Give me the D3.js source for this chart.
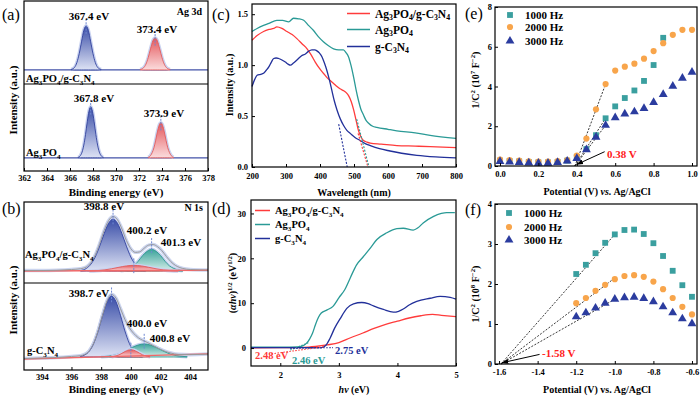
<!DOCTYPE html>
<html>
<head>
<meta charset="utf-8">
<script src="https://cdn.jsdelivr.net/npm/d3@7"></script>
<style>
  body { margin: 0; background: #fff; }
</style>
</head>
<body>
<script>
"use strict";
const SERIF = '"Liberation Serif", "Times New Roman", serif';
const RED = '#ff3b3b', TEAL = '#2a9a96', NAVY = '#22309a';

// (a) Ag 3d XPS components [binding energy, intensity a.u.]
const agCompBlue = [[366.1,1],[366.4,6],[366.6,17],[366.8,37],[367.0,64],[367.2,90],[367.4,100],[367.6,90],[367.8,64],[368.0,37],[368.2,17],[368.4,6],[368.7,1]];
const agCompRed = [[372.1,1],[372.4,5],[372.6,13],[372.8,28],[373.0,48],[373.2,66],[373.4,73],[373.6,66],[373.8,48],[374.0,28],[374.2,13],[374.4,5],[374.7,1]];
const agPureBlue = [[366.7,1],[366.9,5],[367.05,13],[367.2,29],[367.35,53],[367.5,82],[367.65,106],[367.8,116],[367.95,106],[368.1,82],[368.25,53],[368.4,29],[368.55,13],[368.7,5],[368.9,1]];
const agPureRed = [[372.8,1],[373.0,5],[373.15,12],[373.3,23],[373.45,40],[373.6,59],[373.75,74],[373.9,80],[374.05,74],[374.2,59],[374.35,40],[374.5,23],[374.65,12],[374.8,5],[375.0,1]];

// (b) N 1s XPS components
const nCompBlue = [[396.6,1],[397.0,5],[397.3,13],[397.6,27],[397.9,48],[398.2,72],[398.5,92],[398.8,100],[399.1,92],[399.4,72],[399.7,48],[400.0,27],[400.3,13],[400.6,5],[401.0,1]];
const nCompTeal = [[399.3,0.4],[399.6,2],[399.9,5],[400.2,10],[400.5,19],[400.8,30],[401.1,38],[401.4,42],[401.7,38],[402.0,30],[402.3,19],[402.6,10],[402.9,5],[403.2,2],[403.5,0.4]];
const nCompRed = [[397.2,0.3],[397.7,0.8],[398.2,2.1],[398.7,4.4],[399.2,7.3],[399.7,9.9],[400.2,11],[400.7,9.9],[401.2,7.3],[401.7,4.4],[402.2,2.1],[402.7,0.8],[403.2,0.3]];
const nCompEnv = [[392.8,1],[394,1],[395,1.5],[396,3],[396.6,4.5],[397.0,8],[397.3,16],[397.6,31],[397.9,53],[398.2,78],[398.5,97],[398.8,105],[399.1,99],[399.4,81],[399.7,59],[400.0,43],[400.3,36],[400.6,37],[400.9,44],[401.2,50],[401.5,51],[401.8,47],[402.1,39],[402.4,28],[402.7,18],[403.0,11],[403.5,5],[404,3],[405.2,2]];
const nCompBg = [[392.8,0],[405.2,1.5]];
const nPureBlue = [[396.6,1],[396.9,4],[397.2,11],[397.5,26],[397.8,50],[398.1,80],[398.4,106],[398.7,117],[399.0,106],[399.3,80],[399.6,50],[399.9,26],[400.2,11],[400.5,4],[400.8,1]];
const nPureRed = [[398.7,0.4],[399.0,2],[399.2,4],[399.4,7],[399.6,10.3],[399.8,13],[400.0,14],[400.2,13],[400.4,10.3],[400.6,7],[400.8,4],[401.0,2],[401.3,0.4]];
const nPureTeal = [[398.0,0.4],[398.5,1.6],[398.9,3.6],[399.3,7.3],[399.7,12.5],[400.1,18.4],[400.5,23],[400.9,25],[401.3,23],[401.7,18.4],[402.1,12.5],[402.5,7.3],[402.9,3.6],[403.3,1.6],[403.8,0.4]];
const nPureEnv = [[392.8,-3],[394,-2],[395,-1],[396,1],[396.6,2.5],[396.9,5],[397.2,12],[397.5,27],[397.8,51],[398.1,81],[398.4,108],[398.7,120],[399.0,113],[399.3,93],[399.6,72],[399.9,56],[400.2,45],[400.5,37],[400.8,32],[401.1,28],[401.5,22],[401.9,16],[402.3,11],[402.7,7.5],[403.2,5],[404,4.5],[405.2,5.5]];
const nPureBg = [[392.8,-4],[405.2,6]];

// (c) UV-vis absorbance [nm, a.u.]
const absComp = [[200,1.245],[215,1.29],[234,1.33],[250,1.35],[264,1.36],[273,1.375],[288,1.36],[303,1.33],[318,1.30],[332,1.26],[347,1.21],[362,1.16],[374,1.10],[386,1.03],[398,0.97],[410,0.92],[420,0.88],[430,0.85],[440,0.82],[450,0.79],[460,0.765],[469,0.75],[477,0.73],[484,0.70],[492,0.64],[499,0.56],[506,0.46],[513,0.36],[520,0.30],[528,0.26],[538,0.245],[548,0.235],[580,0.225],[626,0.21],[680,0.205],[724,0.20],[800,0.19]];
const absAgP = [[200,1.33],[215,1.36],[234,1.39],[250,1.41],[273,1.44],[290,1.44],[308,1.425],[322,1.46],[337,1.455],[352,1.44],[366,1.39],[381,1.34],[395,1.28],[410,1.23],[425,1.19],[440,1.16],[455,1.15],[469,1.15],[477,1.12],[484,1.08],[491,1.0],[499,0.88],[506,0.76],[513,0.655],[520,0.57],[528,0.51],[535,0.46],[543,0.43],[555,0.40],[567,0.39],[600,0.37],[626,0.355],[680,0.335],[724,0.31],[800,0.28]];
const absCN = [[200,0.79],[208,0.86],[215,0.90],[225,0.91],[234,0.92],[242,0.95],[249,0.98],[257,1.03],[264,1.065],[271,1.07],[278,1.065],[288,1.05],[298,1.03],[306,1.01],[313,1.00],[322,1.02],[332,1.05],[345,1.09],[357,1.11],[366,1.135],[376,1.15],[385,1.15],[391,1.14],[398,1.12],[406,1.08],[413,1.02],[420,0.95],[428,0.85],[435,0.75],[442,0.65],[450,0.56],[460,0.47],[469,0.41],[479,0.36],[489,0.33],[503,0.29],[518,0.26],[533,0.23],[548,0.21],[575,0.18],[606,0.157],[640,0.135],[685,0.115],[740,0.10],[800,0.09]];
const tanCComp = [[512,0.33],[541,0]];
const tanCAgP = [[508,0.47],[544,0]];
const tanCCN = [[455,0.42],[480,0]];

// (d) Tauc plot [eV, (ahv)^1/2]
const taucComp = [[1.5,0.05],[2.0,0.1],[2.4,0.15],[2.6,0.35],[2.8,0.7],[3.0,1.2],[3.2,2.3],[3.4,3.3],[3.6,4.4],[3.8,5.3],[4.0,6.0],[4.2,6.7],[4.4,7.2],[4.6,7.5],[4.75,7.3],[5.0,7.0]];
const taucAgP = [[1.5,0.2],[2.0,0.2],[2.3,0.25],[2.4,0.6],[2.45,1.1],[2.5,2.0],[2.55,3.3],[2.6,5.2],[2.65,6.8],[2.7,7.8],[2.8,8.5],[2.9,9.3],[3.0,11.2],[3.1,13.0],[3.2,15.8],[3.3,18.5],[3.42,20.4],[3.55,22.5],[3.65,24.2],[3.82,25.7],[3.99,26.6],[4.1,26.7],[4.27,26.3],[4.35,26.8],[4.44,27.9],[4.61,29.3],[4.75,30.0],[4.84,30.2],[4.98,30.2]];
const taucCN = [[1.5,0.1],[2.7,0.1],[2.77,0.5],[2.85,2.2],[2.93,4.5],[3.02,6.5],[3.14,8.9],[3.25,9.85],[3.39,10.15],[3.5,9.9],[3.59,9.4],[3.76,8.6],[3.93,8.0],[4.02,8.2],[4.10,8.7],[4.2,9.6],[4.33,10.4],[4.56,11.1],[4.73,11.5],[4.9,11.3],[5.0,10.9]];
const tanDComp = [[1.85,-1.3],[2.75,0.3]];
const tanDAgP = [[2.17,-0.45],[2.48,1.2]];
const tanDCN = [[2.17,-0.1],[2.9,0.1]];

// (e) Mott-Schottky, Ag3PO4 [V vs Ag/AgCl, 1/C^2 x 1e7]
const potE = [0,0.05,0.1,0.15,0.2,0.25,0.3,0.35,0.4,0.45,0.5,0.55,0.6,0.65,0.7,0.75,0.8,0.85,0.9,0.95,1.0];
const c1000E = [0.27,0.25,0.23,0.2,0.18,0.18,0.2,0.27,0.45,0.85,1.55,2.4,3.0,3.42,3.8,4.28,5.08,6.45];
const c2000E = [0.32,0.3,0.27,0.24,0.22,0.22,0.25,0.3,0.53,1.38,2.85,4.12,4.8,5.0,5.15,5.4,5.78,6.18,6.6,6.85,6.85];
const c3000E = [0.23,0.2,0.18,0.16,0.14,0.14,0.18,0.25,0.38,0.82,1.45,2.05,2.43,2.62,2.73,2.9,3.2,3.6,4.02,4.42,4.72];
const fitE = [[[0.39,0],[0.55,4.12]],[[0.39,0],[0.55,2.4]],[[0.39,0],[0.55,2.05]]];
const arrowE = [[0.545,0.72],[0.40,0.08]];

// (f) Mott-Schottky, g-C3N4 [V vs Ag/AgCl, 1/C^2 x 1e8]
const potF = [-1.2,-1.15,-1.1,-1.05,-1.0,-0.95,-0.9,-0.85,-0.8,-0.75,-0.7,-0.65,-0.6];
const c1000F = [2.25,2.48,2.77,3.03,3.24,3.35,3.36,3.25,3.02,2.7,2.33,1.97,1.68];
const c2000F = [1.52,1.65,1.83,1.98,2.12,2.2,2.22,2.18,2.06,1.87,1.65,1.43,1.24];
const c3000F = [1.18,1.28,1.4,1.52,1.62,1.66,1.67,1.64,1.56,1.43,1.28,1.13,1.01];
const fitF = [[[-1.59,0],[-1.0,3.24]],[[-1.59,0],[-1.0,2.15]],[[-1.59,0],[-1.0,1.62]]];
const arrowF = [[-1.39,0.24],[-1.585,0.03]];

const freqLabels = ['1000 Hz', '2000 Hz', '3000 Hz'];
const sampleLabels = ['Ag_3PO_4/g-C_3N_4', 'Ag_3PO_4', 'g-C_3N_4'];

const svg = d3.select('body').append('svg')
  .attr('width', 700).attr('height', 396)
  .style('font-family', SERIF);
const defs = svg.append('defs');

function grad(id, c0, c1) {
  const g = defs.append('linearGradient').attr('id', id)
    .attr('x1', 0).attr('y1', 0).attr('x2', 0).attr('y2', 1);
  g.append('stop').attr('offset', '0%').attr('stop-color', c0);
  g.append('stop').attr('offset', '100%').attr('stop-color', c1);
}
grad('gBlue', '#3a4ea8', '#dde2f4');
grad('gRed', '#e4575c', '#fbdcdd');
grad('gTeal', '#3aa39a', '#d6eeea');

defs.append('marker').attr('id', 'arrow')
  .attr('viewBox', '0 0 10 10').attr('refX', 9).attr('refY', 5)
  .attr('markerWidth', 7).attr('markerHeight', 7).attr('orient', 'auto')
  .append('path').attr('d', 'M0,1.5 L10,5 L0,8.5 z').attr('fill', '#000');

// text with _sub ^sup *italic* markup
function rich(text, str, fs) {
  const re = /_\{([^}]*)\}|\^\{([^}]*)\}|_(.)|\^(.)|\*([^*]*)\*|([^_^*]+)/g;
  let m, cur = 0;
  while ((m = re.exec(str)) !== null) {
    let t = m[6], mode = 'n';
    if (m[1] !== undefined) { t = m[1]; mode = 'sub'; }
    else if (m[2] !== undefined) { t = m[2]; mode = 'sup'; }
    else if (m[3] !== undefined) { t = m[3]; mode = 'sub'; }
    else if (m[4] !== undefined) { t = m[4]; mode = 'sup'; }
    else if (m[5] !== undefined) { t = m[5]; mode = 'i'; }
    const off = mode === 'sub' ? fs * 0.25 : mode === 'sup' ? -fs * 0.4 : 0;
    const ts = text.append('tspan').text(t).attr('dy', off - cur);
    if (mode === 'sub' || mode === 'sup') ts.attr('font-size', fs * 0.68);
    if (mode === 'i') ts.attr('font-style', 'italic');
    cur = off;
  }
  return text;
}

function label(x, y, str, o = {}) {
  const fs = o.fs || 11;
  const t = svg.append('text').attr('x', x).attr('y', y)
    .attr('font-size', fs).attr('font-weight', o.w || 'bold')
    .attr('fill', o.fill || '#000').attr('text-anchor', o.anchor || 'start');
  if (o.rot) t.attr('transform', `rotate(-90,${x},${y})`);
  return rich(t, str, fs);
}

function frame(x, y) {
  svg.append('rect')
    .attr('x', x.range()[0]).attr('y', y.range()[1])
    .attr('width', x.range()[1] - x.range()[0])
    .attr('height', y.range()[0] - y.range()[1])
    .attr('fill', 'none').attr('stroke', '#000').attr('stroke-width', 1.2);
}

function styleAxis(g) {
  g.select('.domain').remove();
  g.attr('font-family', SERIF).attr('font-size', 8.5).attr('font-weight', 'bold');
}

function xAxis(x, yPix, ticks, fmt, pad) {
  svg.append('g').attr('transform', `translate(0,${yPix})`)
    .call(d3.axisBottom(x).tickValues(ticks).tickFormat(fmt)
      .tickSizeInner(-3).tickSizeOuter(0).tickPadding(pad))
    .call(styleAxis);
}

function yAxis(y, xPix, ticks, fmt, pad) {
  svg.append('g').attr('transform', `translate(${xPix},0)`)
    .call(d3.axisLeft(y).tickValues(ticks).tickFormat(fmt)
      .tickSizeInner(-3).tickSizeOuter(0).tickPadding(pad))
    .call(styleAxis);
}

function panelTag(x, y, s) {
  svg.append('text').attr('x', x).attr('y', y).attr('font-size', 16).text(s);
}

// ---------- XPS helpers ----------
function peak(x, y, pts, fill, stroke) {
  const line = d3.line().x(d => x(d[0])).y(d => y(d[1])).curve(d3.curveMonotoneX);
  const area = d3.area().x(d => x(d[0])).y0(y(0)).y1(d => y(d[1])).curve(d3.curveMonotoneX);
  svg.append('path').datum(pts).attr('d', line)
    .attr('fill', 'none').attr('stroke', '#c9d2f0').attr('stroke-width', 3.5);
  svg.append('path').datum(pts).attr('d', area)
    .attr('fill', `url(#${fill})`).attr('stroke', stroke).attr('stroke-width', 0.9);
}

function peakMark(x, y, e, v) {
  svg.append('line')
    .attr('x1', x(e)).attr('x2', x(e))
    .attr('y1', y(v) - 7).attr('y2', y(v) + 9)
    .attr('stroke', '#6f89d2').attr('stroke-width', 1).attr('stroke-dasharray', '2,1.2');
}

function plainLine(x, y, pts, color, w, dash) {
  svg.append('path').datum(pts)
    .attr('d', d3.line().x(d => x(d[0])).y(d => y(d[1])).curve(d3.curveMonotoneX))
    .attr('fill', 'none').attr('stroke', color).attr('stroke-width', w)
    .attr('stroke-dasharray', dash || null);
}

// ---------- (a) ----------
const xA = d3.scaleLinear().domain([362, 378]).range([24, 208]);
const yA1 = d3.scaleLinear().domain([-32, 157]).range([84, 1]);
const yA2 = d3.scaleLinear().domain([-30, 168]).range([171, 84]);

plainLine(xA, yA1, [[362, 0], [378, 0]], '#4352a8', 1.2);
plainLine(xA, yA2, [[362, 0], [378, 0]], '#4352a8', 1.2);
peak(xA, yA1, agCompBlue, 'gBlue', '#2f3f9c');
peak(xA, yA1, agCompRed, 'gRed', '#e25a5a');
peak(xA, yA2, agPureBlue, 'gBlue', '#2f3f9c');
peak(xA, yA2, agPureRed, 'gRed', '#e25a5a');
peakMark(xA, yA1, 367.4, 100);
peakMark(xA, yA1, 373.4, 73);
peakMark(xA, yA2, 367.8, 116);
peakMark(xA, yA2, 373.9, 80);
svg.append('line').attr('x1', 24).attr('x2', 208).attr('y1', 84).attr('y2', 84)
  .attr('stroke', '#000').attr('stroke-width', 1.2);
frame(xA, d3.scaleLinear().range([171, 1]));
xAxis(xA, 171, d3.range(362, 379, 2), d3.format('d'), 4);

label(89, 20, '367.4 eV', { anchor: 'middle' });
label(157, 33, '373.4 eV', { anchor: 'middle' });
label(94, 102, '367.8 eV', { anchor: 'middle' });
label(164, 117, '373.9 eV', { anchor: 'middle' });
label(202, 15, 'Ag 3d', { anchor: 'end', fs: 10 });
label(26, 82, sampleLabels[0], { fs: 10.5 });
label(26, 156, sampleLabels[1], { fs: 10.5 });
label(116, 196, 'Binding energy (eV)', { anchor: 'middle' });
label(17, 100, 'Intensity (a.u.)', { anchor: 'middle', rot: true });
panelTag(2, 20, '(a)');

// ---------- (b) ----------
const xB = d3.scaleLinear().domain([392.8, 405.2]).range([24, 208]);
const yB1 = d3.scaleLinear().domain([-23, 133]).range([283, 202]);
const yB2 = d3.scaleLinear().domain([-25, 142]).range([370, 283]);

plainLine(xB, yB1, nCompEnv, '#ccd5ef', 3.5);
plainLine(xB, yB2, nPureEnv, '#ccd5ef', 3.5);
peak(xB, yB1, nCompBlue, 'gBlue', '#2f3f9c');
peak(xB, yB1, nCompTeal, 'gTeal', '#2a968f');
peak(xB, yB1, nCompRed, 'gRed', '#e25a5a');
plainLine(xB, yB1, nCompBg, '#f06868', 1.4);
plainLine(xB, yB1, nCompEnv, '#9a9a9a', 1);
peak(xB, yB2, nPureBlue, 'gBlue', '#2f3f9c');
peak(xB, yB2, nPureTeal, 'gTeal', '#2a968f');
peak(xB, yB2, nPureRed, 'gRed', '#e25a5a');
plainLine(xB, yB2, nPureBg, '#f06868', 1.4);
plainLine(xB, yB2, nPureEnv, '#9a9a9a', 1);
peakMark(xB, yB1, 398.8, 105);
peakMark(xB, yB1, 400.2, 11);
peakMark(xB, yB1, 401.4, 50);
peakMark(xB, yB2, 398.7, 120);
peakMark(xB, yB2, 400.0, 14);
peakMark(xB, yB2, 400.9, 31);
svg.append('line').attr('x1', 24).attr('x2', 208).attr('y1', 283).attr('y2', 283)
  .attr('stroke', '#000').attr('stroke-width', 1.2);
frame(xB, d3.scaleLinear().range([370, 202]));
xAxis(xB, 370, d3.range(394, 405, 2), d3.format('d'), 3.5);

label(104, 210, '398.8 eV', { anchor: 'middle' });
label(147, 234, '400.2 eV', { anchor: 'middle' });
label(181, 246, '401.3 eV', { anchor: 'middle' });
label(89, 297, '398.7 eV', { anchor: 'middle' });
label(147, 327, '400.0 eV', { anchor: 'middle' });
label(170, 342, '400.8 eV', { anchor: 'middle' });
label(203, 211, 'N 1s', { anchor: 'end', fs: 10 });
label(25, 258, sampleLabels[0], { fs: 10.5 });
label(27, 354, sampleLabels[2], { fs: 10.5 });
label(116, 393, 'Binding energy (eV)', { anchor: 'middle' });
label(17, 300, 'Intensity (a.u.)', { anchor: 'middle', rot: true });
panelTag(2, 214, '(b)');

// ---------- (c) ----------
const xC = d3.scaleLinear().domain([200, 800]).range([252, 456]);
const yC = d3.scaleLinear().domain([0, 1.6]).range([167, 4]);
const cColors = [RED, TEAL, NAVY];
[absComp, absAgP, absCN].forEach((s, i) => plainLine(xC, yC, s, cColors[i], 1.3));
[tanCComp, tanCAgP, tanCCN].forEach((s, i) => plainLine(xC, yC, s, cColors[i], 1.1, '2,1.5'));
frame(xC, yC);
xAxis(xC, 167, d3.range(200, 801, 100), d3.format('d'), 6);
yAxis(yC, 252, [0, 0.5, 1.0, 1.5], d3.format('.1f'), 4);
sampleLabels.forEach((s, i) => {
  const yy = [13.5, 29.5, 46.5][i];
  svg.append('line').attr('x1', 347).attr('x2', 370).attr('y1', yy).attr('y2', yy)
    .attr('stroke', cColors[i]).attr('stroke-width', 1.5);
  label(375, yy + 4, s, { fs: 11.5 });
});
label(354, 196, 'Wavelength (nm)', { anchor: 'middle', fs: 10 });
label(233, 85, 'Intensity (a.u.)', { anchor: 'middle', rot: true, fs: 10 });
panelTag(212, 20, '(c)');

// ---------- (d) ----------
const xD = d3.scaleLinear().domain([1.5, 5]).range([251, 456]);
const yD = d3.scaleLinear().domain([-4, 33]).range([366, 200]);
[taucComp, taucAgP, taucCN].forEach((s, i) => plainLine(xD, yD, s, cColors[i], 1.3));
[tanDComp, tanDAgP, tanDCN].forEach((s, i) => plainLine(xD, yD, s, cColors[i], 1.1, '1.5,1.5'));
frame(xD, yD);
xAxis(xD, 366, [2, 3, 4, 5], d3.format('d'), 6);
yAxis(yD, 251, [0, 10, 20, 30], d3.format('d'), 5);
sampleLabels.forEach((s, i) => {
  const yy = [210.5, 224.5, 238.5][i];
  svg.append('line').attr('x1', 255).attr('x2', 270).attr('y1', yy).attr('y2', yy)
    .attr('stroke', cColors[i]).attr('stroke-width', 1.5);
  label(275, yy + 3.5, s, { fs: 10.5 });
});
label(255, 359, '2.48 eV', { fill: RED, fs: 10.5 });
label(292, 364, '2.46 eV', { fill: TEAL, fs: 10.5 });
label(335, 354, '2.75 eV', { fill: NAVY, fs: 10.5 });
label(354, 393, '*hν* (eV)', { anchor: 'middle', fs: 10 });
label(236, 283, '(*αhν*)^{1/2} (eV^{1/2})', { anchor: 'middle', rot: true, fs: 10 });
panelTag(212, 214, '(d)');

// ---------- scatter helpers ----------
const symColors = ['#3a9f9f', '#f8a54b', '#2b3c9f'];
const symTypes = [d3.symbolSquare, d3.symbolCircle, d3.symbolTriangle];
const symSizes = [34, 30, 34];
function symbols(x, y, xs, ys, k) {
  svg.append('g').selectAll('path').data(ys).join('path')
    .attr('transform', (d, i) => `translate(${x(xs[i])},${y(d)})`)
    .attr('d', d3.symbol().type(symTypes[k]).size(symSizes[k]))
    .attr('fill', symColors[k]);
}
function legendSym(x0, ys) {
  freqLabels.forEach((s, k) => {
    svg.append('path').attr('transform', `translate(${x0},${ys[k]})`)
      .attr('d', d3.symbol().type(symTypes[k]).size(symSizes[k]))
      .attr('fill', symColors[k]);
    label(x0 + 15, ys[k] + 4, s, { fs: 11 });
  });
}
function fitLines(x, y, fits) {
  fits.forEach(f => svg.append('line')
    .attr('x1', x(f[0][0])).attr('y1', y(f[0][1]))
    .attr('x2', x(f[1][0])).attr('y2', y(f[1][1]))
    .attr('stroke', '#222').attr('stroke-width', 0.9).attr('stroke-dasharray', '2,1.5'));
}
function arrow(x, y, a) {
  svg.append('line')
    .attr('x1', x(a[0][0])).attr('y1', y(a[0][1]))
    .attr('x2', x(a[1][0])).attr('y2', y(a[1][1]))
    .attr('stroke', '#000').attr('stroke-width', 1).attr('marker-end', 'url(#arrow)');
}

// ---------- (e) ----------
const xE = d3.scaleLinear().domain([-0.026, 1.026]).range([495, 697]);
const yE = d3.scaleLinear().domain([0, 8]).range([166, 7]);
fitLines(xE, yE, fitE);
[c1000E, c2000E, c3000E].forEach((s, k) => symbols(xE, yE, potE, s, k));
arrow(xE, yE, arrowE);
frame(xE, yE);
xAxis(xE, 166, [0, 0.2, 0.4, 0.6, 0.8, 1.0], d => d.toFixed(1), 4.5);
yAxis(yE, 495, [0, 2, 4, 6, 8], d3.format('d'), 3);
legendSym(510, [15, 27, 41]);
label(607, 158, '0.38 V', { fill: '#ff2020', fs: 11 });
label(597, 195, 'Potential (V) *vs.* Ag/AgCl', { anchor: 'middle', fs: 10 });
label(479, 80, '1/C^2 (10^7 F^{−2})', { anchor: 'middle', rot: true, fs: 10 });
panelTag(465, 19, '(e)');

// ---------- (f) ----------
const xF = d3.scaleLinear().domain([-1.621, -0.574]).range([495, 697]);
const yF = d3.scaleLinear().domain([0, 4]).range([364, 204]);
fitLines(xF, yF, fitF);
[c1000F, c2000F, c3000F].forEach((s, k) => symbols(xF, yF, potF, s, k));
arrow(xF, yF, arrowF);
frame(xF, yF);
xAxis(xF, 364, [-1.6, -1.4, -1.2, -1.0, -0.8, -0.6], d => d.toFixed(1), 5);
yAxis(yF, 495, [0, 1, 2, 3, 4], d3.format('d'), 3);
legendSym(509, [213, 227, 240]);
label(542, 357, '-1.58 V', { fill: '#ff2020', fs: 11 });
label(597, 393, 'Potential (V) vs. Ag/AgCl', { anchor: 'middle', fs: 10 });
label(479, 294, '1/C^2 (10^8 F^{−2})', { anchor: 'middle', rot: true, fs: 10 });
panelTag(465, 215, '(f)');
</script>
</body>
</html>
